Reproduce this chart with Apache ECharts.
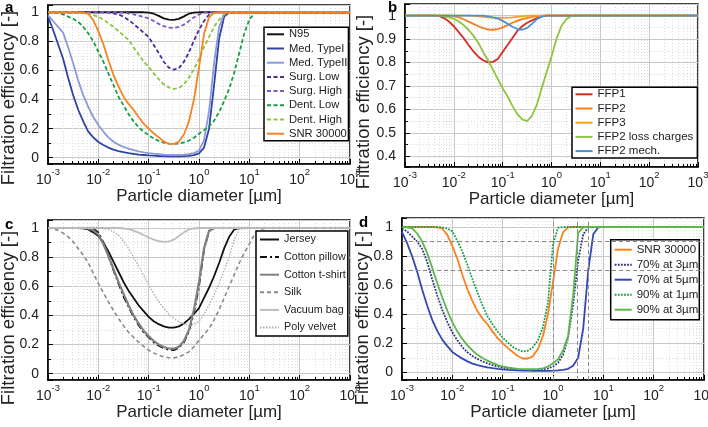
<!DOCTYPE html>
<html><head><meta charset="utf-8">
<script src="https://cdn.jsdelivr.net/npm/echarts@6/dist/echarts.min.js"></script>
<style>html,body{margin:0;padding:0;background:#fff}#c{width:708px;height:427px}</style>
</head><body><div id="c"></div>
<script>
// log10 of particle diameter (µm) at which the curves were read
const logD = [-3.0,-2.9,-2.8,-2.7,-2.6,-2.5,-2.4,-2.3,-2.2,-2.1,
              -2.0,-1.9,-1.8,-1.7,-1.6,-1.5,-1.4,-1.3,-1.2,-1.1,
              -1.0,-0.9,-0.8,-0.7,-0.6,-0.5,-0.4,-0.3,-0.2,-0.1,
               0.0, 0.1, 0.2, 0.3, 0.4, 0.5, 0.6, 0.7, 0.8, 0.9,
               1.0, 1.1, 1.2, 1.3, 1.4, 1.5, 3.0];
const diam = logD.map(e => Math.pow(10, e));

// ---- panel a ----
const n95 = [1,1,1,1,1,1,1,1,1,1, 1,1,1,1,1,1,1,1,1,1,
  0.997,0.99,0.975,0.958,0.949,0.948,0.955,0.972,0.99,0.998, 1,1,1,1,1,1,1,1,1,1, 1,1,1,1,1,1,1];
const medType1 = [0.97,0.88,0.78,0.68,0.55,0.43,0.33,0.25,0.18,0.14,
  0.108,0.088,0.07,0.056,0.046,0.038,0.032,0.027,0.022,0.019,
  0.016,0.014,0.012,0.011,0.01,0.01,0.01,0.011,0.013,0.018,
  0.03,0.07,0.2,0.5,0.82,0.97,1,1,1,1, 1,1,1,1,1,1,1];
const medType2 = [0.98,0.94,0.9,0.86,0.76,0.65,0.53,0.43,0.35,0.28,
  0.225,0.18,0.14,0.11,0.09,0.075,0.062,0.052,0.044,0.037,
  0.032,0.028,0.025,0.022,0.02,0.02,0.02,0.022,0.025,0.032,
  0.05,0.12,0.32,0.65,0.9,0.99,1,1,1,1, 1,1,1,1,1,1,1];
const surgLow = [1,1,1,1,1,1,1,1,1,1,
  1,1,0.998,0.993,0.985,0.97,0.947,0.92,0.89,0.86,
  0.83,0.775,0.72,0.66,0.62,0.605,0.615,0.66,0.725,0.805,
  0.88,0.94,0.985,1,1,1,1,1,1,1, 1,1,1,1,1,1,1];
const surgHigh = [1,1,1,1,1,1,1,1,1,1,
  1,1,1,1,1,0.998,0.993,0.985,0.977,0.968,
  0.958,0.94,0.92,0.905,0.895,0.893,0.9,0.915,0.94,0.965,
  0.985,0.997,1,1,1,1,1,1,1,1, 1,1,1,1,1,1,1];
const dentLow = [1,0.998,0.995,0.985,0.97,0.955,0.935,0.9,0.855,0.8,
  0.73,0.66,0.58,0.5,0.42,0.36,0.3,0.25,0.21,0.18,
  0.154,0.133,0.115,0.104,0.097,0.095,0.097,0.105,0.118,0.138,
  0.165,0.19,0.215,0.255,0.315,0.39,0.475,0.585,0.72,0.855,
  0.95,0.993,1,1,1,1,1];
const dentHigh = [1,1,1,1,1,1,0.998,0.995,0.99,0.98,
  0.97,0.95,0.925,0.9,0.87,0.84,0.81,0.76,0.71,0.66,
  0.625,0.58,0.54,0.505,0.483,0.474,0.48,0.505,0.55,0.61,
  0.68,0.76,0.83,0.9,0.95,0.985,1,1,1,1, 1,1,1,1,1,1,1];
const snr30000 = [1,1,1,1,1,1,1,0.998,0.99,0.945,
  0.87,0.78,0.67,0.57,0.49,0.42,0.37,0.33,0.28,0.235,
  0.2,0.168,0.14,0.112,0.095,0.095,0.11,0.16,0.25,0.4,
  0.62,0.85,0.965,0.998,1,1,1,1,1,1, 1,1,1,1,1,1,1];

// ---- panel b ----
const ffp1 = [1,1,1,1,1,1,1,0.998,0.99,0.975,
  0.955,0.93,0.905,0.875,0.848,0.825,0.81,0.801,0.803,0.815,
  0.845,0.875,0.905,0.935,0.955,0.97,0.98,0.99,0.997,1,
  1,1,1,1,1,1,1,1,1,1, 1,1,1,1,1,1,1];
const ffp2 = [1,1,1,1,1,1,1,1,1,1,
  0.998,0.993,0.985,0.975,0.965,0.955,0.947,0.941,0.94,0.943,
  0.95,0.96,0.97,0.978,0.985,0.99,0.995,0.998,1,1,
  1,1,1,1,1,1,1,1,1,1, 1,1,1,1,1,1,1];
const ffp3 = [1,1,1,1,1,1,1,1,1,1,
  1,1,1,1,0.999,0.997,0.995,0.993,0.992,0.991,
  0.991,0.992,0.993,0.995,0.997,0.999,1,1,1,1,
  1,1,1,1,1,1,1,1,1,1, 1,1,1,1,1,1,1];
const ffp2Loss = [1,1,1,1,1,1,1,1,0.997,0.993,
  0.988,0.975,0.96,0.94,0.915,0.885,0.845,0.81,0.77,0.73,
  0.69,0.655,0.615,0.58,0.557,0.55,0.572,0.62,0.69,0.76,
  0.825,0.9,0.955,0.985,0.998,1,1,1,1,1, 1,1,1,1,1,1,1];
const ffp2Mech = [1,1,1,1,1,1,1,1,1,1,
  1,1,1,1,1,1,1,0.997,0.993,0.988,
  0.978,0.966,0.953,0.943,0.94,0.947,0.965,0.985,0.996,1,
  1,1,1,1,1,1,1,1,1,1, 1,1,1,1,1,1,1];

// ---- panel c ----
const jersey = [1,1,1,1,1,1,1,0.998,0.99,0.97,
  0.945,0.9,0.84,0.77,0.7,0.63,0.57,0.52,0.47,0.43,
  0.39,0.36,0.34,0.325,0.316,0.317,0.325,0.345,0.375,0.41,
  0.45,0.52,0.59,0.67,0.76,0.86,0.94,0.99,1,1, 1,1,1,1,1,1,1];
const cottonPillow = [1,1,1,1,1,1,1,1,1,0.995,
  0.97,0.9,0.81,0.71,0.62,0.53,0.46,0.39,0.335,0.285,
  0.25,0.215,0.192,0.176,0.164,0.162,0.178,0.215,0.29,0.42,
  0.6,0.85,0.98,1,1,1,1,1,1,1, 1,1,1,1,1,1,1];
const cottonTshirt = [1,1,1,1,1,1,1,1,0.997,0.985,
  0.955,0.89,0.81,0.72,0.63,0.55,0.47,0.4,0.345,0.295,
  0.258,0.225,0.2,0.183,0.173,0.172,0.185,0.225,0.3,0.44,
  0.63,0.86,0.98,1,1,1,1,1,1,1, 1,1,1,1,1,1,1];
const silk = [1,0.994,0.985,0.965,0.94,0.905,0.86,0.815,0.76,0.69,
  0.62,0.555,0.494,0.435,0.38,0.33,0.285,0.25,0.218,0.188,
  0.162,0.143,0.127,0.116,0.11,0.109,0.116,0.13,0.15,0.185,
  0.23,0.27,0.31,0.37,0.44,0.52,0.6,0.68,0.76,0.83,
  0.89,0.955,0.985,0.998,1,1,1];
const vacuumBag = [1,1,1,1,1,1,1,1,1,1,
  1,1,1,1,1,0.998,0.993,0.982,0.968,0.952,
  0.935,0.92,0.91,0.905,0.908,0.92,0.945,0.97,0.99,0.998,
  1,1,1,1,1,1,1,1,1,1, 1,1,1,1,1,1,1];
const polyVelvet = [1,1,1,1,1,1,1,1,1,1,
  1,0.997,0.99,0.975,0.95,0.91,0.86,0.8,0.74,0.675,
  0.61,0.55,0.494,0.45,0.41,0.38,0.357,0.342,0.335,0.34,
  0.36,0.41,0.47,0.54,0.62,0.71,0.8,0.92,0.99,1, 1,1,1,1,1,1,1];

// ---- panel d ----
const m70at3 = [0.99,0.97,0.935,0.9,0.85,0.76,0.64,0.53,0.43,0.345,
  0.275,0.22,0.172,0.138,0.112,0.092,0.075,0.061,0.05,0.04,
  0.033,0.027,0.022,0.019,0.017,0.016,0.016,0.017,0.02,0.027,
  0.04,0.065,0.12,0.24,0.47,0.77,0.95,0.997,1,1, 1,1,1,1,1,1,1];
const m70at5 = [0.965,0.89,0.8,0.693,0.57,0.46,0.36,0.285,0.225,0.18,
  0.14,0.115,0.094,0.075,0.06,0.05,0.041,0.034,0.028,0.023,
  0.02,0.017,0.015,0.013,0.012,0.011,0.01,0.01,0.01,0.01,
  0.011,0.013,0.017,0.024,0.045,0.1,0.3,0.7,0.95,0.998, 1,1,1,1,1,1,1];
const m90at1 = [1,1,1,1,1,1,1,1,0.997,0.99,
  0.97,0.905,0.83,0.74,0.64,0.55,0.46,0.385,0.33,0.28,
  0.24,0.205,0.175,0.155,0.143,0.148,0.172,0.22,0.31,0.48,
  0.88,0.995,1,1,1,1,1,1,1,1, 1,1,1,1,1,1,1];
const m90at3 = [1,0.998,0.99,0.956,0.9,0.82,0.72,0.615,0.515,0.425,
  0.345,0.28,0.228,0.185,0.15,0.12,0.098,0.08,0.065,0.05,
  0.04,0.033,0.028,0.024,0.022,0.021,0.021,0.023,0.027,0.04,
  0.062,0.09,0.15,0.25,0.53,0.96,0.998,1,1,1, 1,1,1,1,1,1,1];

// reference lines in panel d
const refEff = [0.9, 0.7];
const refDiam = [1, 3, 5];

const legendA = ['N95','Med. TypeI','Med. TypeII','Surg. Low','Surg. High','Dent. Low','Dent. High','SNR 30000'];
const legendB = ['FFP1','FFP2','FFP3','FFP2 loss charges','FFP2 mech.'];
const legendC = ['Jersey','Cotton pillow','Cotton t-shirt','Silk','Vacuum bag','Poly velvet'];
const legendD = ['SNR 30000','70% at 3µm','70% at 5µm','90% at 1µm','90% at 3µm'];

const FONT = '"Liberation Sans", Arial, Helvetica, sans-serif';
const TXT = '#222';

function pairs(v) { return diam.map((d, i) => [d, v[i]]); }
function line(name, vals, gi, color, width, dash, extra) {
  return Object.assign({
    type: 'line', name: name, xAxisIndex: gi, yAxisIndex: gi, data: pairs(vals),
    showSymbol: false, symbol: 'circle', symbolSize: 0, smooth: false,
    lineStyle: { color: color, width: width, type: dash || 'solid' },
    itemStyle: { color: color }, emphasis: { disabled: true }
  }, extra || {});
}

const grids = [
  { left: 48, top: 5, width: 302, height: 159 },
  { left: 405, top: 4, width: 293, height: 163 },
  { left: 48, top: 220, width: 302, height: 160 },
  { left: 402, top: 218, width: 302, height: 162 }
];
const yRanges = [[-0.043, 1.05, 5], [0.354, 1.05, 7], [-0.043, 1.055, 5], [-0.053, 1.062, 5]];

const xAxes = grids.map((g, i) => ({
  type: 'log', logBase: 10, gridIndex: i, min: 0.001, max: 1000,
  name: 'Particle diameter [µm]', nameLocation: 'middle', nameGap: 23,
  nameTextStyle: { fontSize: 17, color: TXT, fontFamily: FONT },
  axisLine: { show: true, onZero: false, lineStyle: { color: '#000', width: 1.5 } },
  axisTick: { show: true, inside: true, length: 5, lineStyle: { color: '#000', width: 1 } },
  minorTick: { show: true, splitNumber: 9, length: 3, lineStyle: { color: '#000', width: 1 } },
  splitLine: { show: true, lineStyle: { color: '#c8c8c8', width: 1 } },
  minorSplitLine: { show: true, lineStyle: { color: '#dcdcdc', width: 1, type: [1, 2] } },
  axisLabel: {
    margin: 3,
    formatter: v => '{a|10}{b|' + Math.round(Math.log10(v)) + '}',
    rich: {
      a: { fontSize: 14, color: TXT, fontFamily: FONT, lineHeight: 20, verticalAlign: 'bottom' },
      b: { fontSize: 9.5, color: TXT, fontFamily: FONT, lineHeight: 10, verticalAlign: 'top' }
    }
  }
}));

const yAxes = grids.map((g, i) => ({
  type: 'value', gridIndex: i, min: yRanges[i][0], max: yRanges[i][1], splitNumber: yRanges[i][2],
  axisLine: { show: true, onZero: false, lineStyle: { color: '#000', width: 1.5 } },
  axisTick: { show: true, inside: true, length: 5, lineStyle: { color: '#000', width: 1 } },
  minorTick: { show: true, splitNumber: 2, length: 3, lineStyle: { color: '#000', width: 1 } },
  splitLine: { show: true, lineStyle: { color: '#c8c8c8', width: 1 } },
  minorSplitLine: { show: true, lineStyle: { color: '#dcdcdc', width: 1, type: [1, 2] } },
  axisLabel: {
    margin: 9, fontSize: 14, color: TXT, fontFamily: FONT,
    formatter: v => (Math.abs(v * 10 - Math.round(v * 10)) < 1e-6 ? String(Math.round(v * 10) / 10) : '')
  }
}));

const dA = [4, 2.5], dot = [1.8, 1.3];
const series = [
  line('N95', n95, 0, '#111111', 1.8),
  line('Med. TypeI', medType1, 0, '#2f43a3', 1.8),
  line('Med. TypeII', medType2, 0, '#8b9bd8', 1.8),
  line('Surg. Low', surgLow, 0, '#4d2a98', 1.8, dA),
  line('Surg. High', surgHigh, 0, '#7b5bc2', 1.8, dA),
  line('Dent. Low', dentLow, 0, '#16a046', 1.8, dA),
  line('Dent. High', dentHigh, 0, '#8cc63e', 1.8, dA),
  line('SNR 30000', snr30000, 0, '#f7821f', 1.8),

  line('FFP1', ffp1, 1, '#d62a22', 1.8),
  line('FFP2', ffp2, 1, '#f47e20', 1.8),
  line('FFP3', ffp3, 1, '#f5a21e', 1.8),
  line('FFP2 loss charges', ffp2Loss, 1, '#8cc63e', 1.8),
  line('FFP2 mech.', ffp2Mech, 1, '#4a90d6', 1.8),

  line('Jersey', jersey, 2, '#111111', 1.8),
  line('Cotton pillow', cottonPillow, 2, '#111111', 1.8, [7, 3, 2, 3]),
  line('Cotton t-shirt', cottonTshirt, 2, '#808080', 2.2),
  line('Silk', silk, 2, '#8a8a8a', 1.6, [4, 3]),
  line('Vacuum bag', vacuumBag, 2, '#bdbdbd', 1.8),
  line('Poly velvet', polyVelvet, 2, '#b0b0b0', 1.4, [1.5, 1.5]),

  line('SNR 30000', snr30000, 3, '#f7821f', 1.8, null, {
    markLine: {
      silent: true, symbol: ['none', 'none'], label: { show: false },
      lineStyle: { color: '#8a8a8a', width: 1, type: [4, 3] },
      emphasis: { disabled: true },
      data: refEff.map(v => ({ yAxis: v })).concat(refDiam.map(v => ({ xAxis: v })))
    }
  }),
  line('70% at 3µm', m70at3, 3, '#2b2f80', 1.8, dot),
  line('70% at 5µm', m70at5, 3, '#3448b2', 1.8),
  line('90% at 1µm', m90at1, 3, '#16a04a', 1.8, dot),
  line('90% at 3µm', m90at3, 3, '#5cb84a', 1.8)
];

function legend(data, left, top, iw, ih, gap, pad, fs) {
  return {
    data: data, orient: 'vertical', left: left, top: top, itemWidth: iw, itemHeight: ih, itemGap: gap,
    padding: pad, backgroundColor: '#fff', borderColor: '#000', borderWidth: 1.5, borderRadius: 0,
    selectedMode: false, itemStyle: { opacity: 0, borderWidth: 0 },
    textStyle: { fontSize: fs, color: TXT, fontFamily: FONT, lineHeight: ih }
  };
}

const yName = (x, y) => ({
  type: 'text', x: x, y: y, rotation: Math.PI / 2, silent: true,
  style: { text: 'Filtration efficiency [-]', fontSize: 18.5, fontFamily: FONT, fill: TXT,
           align: 'center', verticalAlign: 'middle', textAlign: 'center', textVerticalAlign: 'middle' }
});
const letter = (t, x, y) => ({
  type: 'text', x: x, y: y, silent: true,
  style: { text: t, fontSize: 15, fontWeight: 'bold', fontFamily: FONT, fill: '#000',
           align: 'left', verticalAlign: 'top', textAlign: 'left', textVerticalAlign: 'top' }
});

const option = {
  animation: false,
  backgroundColor: '#fff',
  grid: grids.map(g => Object.assign({ show: true, borderColor: '#000', borderWidth: 1.5,
    backgroundColor: 'transparent', containLabel: false, outerBoundsMode: 'none' }, g)),
  xAxis: xAxes,
  yAxis: yAxes,
  legend: [
    legend(legendA, 264, 27.3, 17, 12, 2.2, [1, 1, 1, 2], 11.2),
    legend(legendB, 572, 87.3, 17, 12, 2.2, [1, 4, 1, 2.5], 11.5),
    legend(legendC, 256, 231, 19, 14, 3.6, [1.5, 2, 1.5, 3], 10.8),
    legend(legendD, 610.7, 239.7, 17, 12, 3, [4, 1, 4, 3], 11.5)
  ],
  graphic: [
    yName(8.5, 98), yName(364, 102), yName(8.5, 318), yName(362.5, 318),
    letter('a', 5, 0), letter('b', 388, 0), letter('c', 5, 217), letter('d', 359, 215)
  ],
  series: series
};

const chart = echarts.init(document.getElementById('c'), null, { renderer: 'canvas' });
chart.setOption(option);
</script>
</body></html>
